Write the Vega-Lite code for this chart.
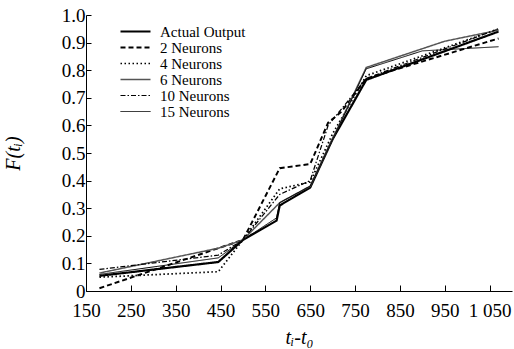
{
  "$schema": "https://vega.github.io/schema/vega-lite/v6.json",
  "autosize": "none",
  "width": 426,
  "height": 276,
  "padding": {"left": 86, "top": 15, "right": 2, "bottom": 58},
  "background": "white",
  "config": {
    "view": {"stroke": null},
    "font": "Liberation Serif",
    "text": {"font": "Liberation Serif"},
    "legend": {"labelFont": "Liberation Serif", "titleFont": "Liberation Serif"},
    "axis": {"grid": false, "domainColor": "black", "tickColor": "black", "labelColor": "black", "titleColor": "black", "labelFont": "Liberation Serif", "titleFont": "Liberation Serif", "labelFontSize": 19, "titleFontSize": 20, "titleFontWeight": "normal", "titleFontStyle": "italic"}
  },
  "data": {
    "values": [
      {"x": 180, "y": 0.055, "s": "Actual Output"},
      {"x": 445, "y": 0.105, "s": "Actual Output"},
      {"x": 500, "y": 0.185, "s": "Actual Output"},
      {"x": 575, "y": 0.255, "s": "Actual Output"},
      {"x": 582, "y": 0.31, "s": "Actual Output"},
      {"x": 650, "y": 0.375, "s": "Actual Output"},
      {"x": 700, "y": 0.55, "s": "Actual Output"},
      {"x": 775, "y": 0.765, "s": "Actual Output"},
      {"x": 1070, "y": 0.94, "s": "Actual Output"},

      {"x": 180, "y": 0.01, "s": "2 Neurons"},
      {"x": 445, "y": 0.155, "s": "2 Neurons"},
      {"x": 500, "y": 0.185, "s": "2 Neurons"},
      {"x": 582, "y": 0.445, "s": "2 Neurons"},
      {"x": 650, "y": 0.46, "s": "2 Neurons"},
      {"x": 690, "y": 0.61, "s": "2 Neurons"},
      {"x": 720, "y": 0.65, "s": "2 Neurons"},
      {"x": 775, "y": 0.77, "s": "2 Neurons"},
      {"x": 1070, "y": 0.915, "s": "2 Neurons"},

      {"x": 180, "y": 0.05, "s": "4 Neurons"},
      {"x": 445, "y": 0.07, "s": "4 Neurons"},
      {"x": 500, "y": 0.185, "s": "4 Neurons"},
      {"x": 582, "y": 0.37, "s": "4 Neurons"},
      {"x": 650, "y": 0.395, "s": "4 Neurons"},
      {"x": 700, "y": 0.57, "s": "4 Neurons"},
      {"x": 775, "y": 0.78, "s": "4 Neurons"},
      {"x": 1070, "y": 0.95, "s": "4 Neurons"},

      {"x": 180, "y": 0.065, "s": "6 Neurons"},
      {"x": 445, "y": 0.155, "s": "6 Neurons"},
      {"x": 500, "y": 0.185, "s": "6 Neurons"},
      {"x": 582, "y": 0.32, "s": "6 Neurons"},
      {"x": 650, "y": 0.38, "s": "6 Neurons"},
      {"x": 775, "y": 0.81, "s": "6 Neurons"},
      {"x": 950, "y": 0.905, "s": "6 Neurons"},
      {"x": 1070, "y": 0.945, "s": "6 Neurons"},

      {"x": 180, "y": 0.078, "s": "10 Neurons"},
      {"x": 445, "y": 0.13, "s": "10 Neurons"},
      {"x": 500, "y": 0.185, "s": "10 Neurons"},
      {"x": 582, "y": 0.35, "s": "10 Neurons"},
      {"x": 650, "y": 0.4, "s": "10 Neurons"},
      {"x": 690, "y": 0.6, "s": "10 Neurons"},
      {"x": 775, "y": 0.77, "s": "10 Neurons"},
      {"x": 1070, "y": 0.95, "s": "10 Neurons"},

      {"x": 180, "y": 0.06, "s": "15 Neurons"},
      {"x": 445, "y": 0.12, "s": "15 Neurons"},
      {"x": 500, "y": 0.185, "s": "15 Neurons"},
      {"x": 575, "y": 0.265, "s": "15 Neurons"},
      {"x": 582, "y": 0.32, "s": "15 Neurons"},
      {"x": 650, "y": 0.38, "s": "15 Neurons"},
      {"x": 775, "y": 0.805, "s": "15 Neurons"},
      {"x": 900, "y": 0.87, "s": "15 Neurons"},
      {"x": 1070, "y": 0.885, "s": "15 Neurons"}
    ]
  },
  "mark": {"type": "line", "strokeCap": "butt"},
  "encoding": {
    "x": {
      "field": "x", "type": "quantitative", "title": "tᵢ-t₀",
      "scale": {"domain": [150, 1100], "nice": false, "zero": false},
      "axis": {"values": [150, 250, 350, 450, 550, 650, 750, 850, 950, 1050], "tickSize": -6, "labelPadding": 16, "titlePadding": 7, "labelExpr": "datum.value == 1050 ? '1 050' : datum.label", "labelFlush": false, "labelBaseline": "top"}
    },
    "y": {
      "field": "y", "type": "quantitative", "title": "F(tᵢ)",
      "scale": {"domain": [0, 1], "nice": false},
      "axis": {"values": [0, 0.1, 0.2, 0.3, 0.4, 0.5, 0.6, 0.7, 0.8, 0.9, 1.0], "tickSize": -5, "labelPadding": 6, "titlePadding": 38, "labelExpr": "datum.value == 0 ? '0' : format(datum.value, '.1f')"}
    },
    "detail": {"field": "s"},
    "color": {
      "field": "s", "type": "nominal", "title": null,
      "scale": {"domain": ["Actual Output", "2 Neurons", "4 Neurons", "6 Neurons", "10 Neurons", "15 Neurons"], "range": ["black", "black", "black", "#555555", "black", "black"]},
      "legend": {"orient": "none", "legendX": 42, "legendY": 9, "symbolType": "M-2.5,0H2.5", "symbolSize": 144, "labelFontSize": 15, "labelFont": "Liberation Serif", "labelColor": "black", "rowPadding": 0, "labelOffset": 17, "symbolStrokeWidth": 1.5, "symbolFillColor": "transparent"}
    },
    "strokeDash": {
      "field": "s", "type": "nominal", "title": null,
      "scale": {"domain": ["Actual Output", "2 Neurons", "4 Neurons", "6 Neurons", "10 Neurons", "15 Neurons"], "range": [[1, 0], [5, 3], [1.5, 2.5], [1, 0], [5, 2, 1.5, 2], [1, 0]]}
    },
    "strokeWidth": {
      "field": "s", "type": "nominal", "legend": null,
      "scale": {"domain": ["Actual Output", "2 Neurons", "4 Neurons", "6 Neurons", "10 Neurons", "15 Neurons"], "range": [2.2, 1, 1.5, 1, 1.1, 1.5]}
    }
  }
}
